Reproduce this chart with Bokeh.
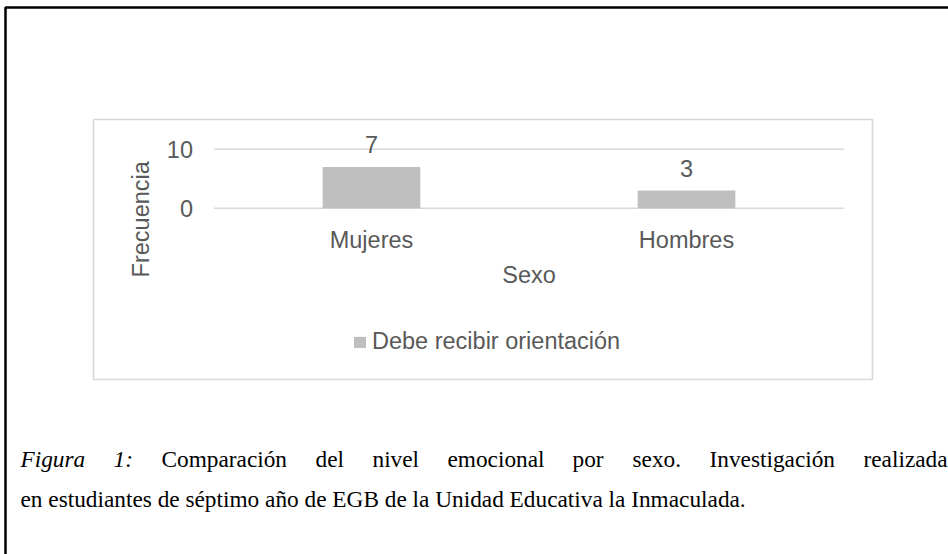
from bokeh.plotting import figure
from bokeh.models import (ColumnDataSource, Range1d, Label, BoxAnnotation,
                          Legend, LegendItem)
from bokeh.core.properties import value
from bokeh.embed import file_html
from bokeh.resources import INLINE
import math

# ---- data ----
categories = ["Mujeres", "Hombres"]
values = [7, 3]
series_name = "Debe recibir orientación"
y_ticks = [0, 10]
x_title = "Sexo"
y_title = "Frecuencia"
caption_words_line1 = ["Figura", "1:", "Comparación", "del", "nivel", "emocional",
                       "por", "sexo.", "Investigación", "realizada"]
caption_italic_words = 2
caption_line2 = "en estudiantes de séptimo año de EGB de la Unidad Educativa la Inmaculada."

# ---- styles / layout ----
GRAY = "#595959"
BAR = "#bfbfbf"
GRID = "#d9d9d9"
SANS = "Liberation Sans"
SERIF = "Liberation Serif"
FS = "23.5px"
CAP_FS = "23.3px"
W, H = 948, 554
CAT_STEP = 315.0      # px per category
CAT0_PX = 371.0       # px centre of first category
PX_PER_UNIT = 5.91    # px per value unit
ZERO_PX = 207.8       # px (from top) of value 0

x0 = -CAT0_PX / CAT_STEP
y0 = -(H - ZERO_PX) / PX_PER_UNIT
p = figure(width=W, height=H, output_backend="svg", toolbar_location=None,
           x_range=Range1d(x0, x0 + W / CAT_STEP),
           y_range=Range1d(y0, y0 + H / PX_PER_UNIT),
           min_border=0)
p.axis.visible = False
p.grid.visible = False
p.outline_line_color = None
p.background_fill_color = "white"
p.border_fill_color = "white"

n = len(categories)
idx = list(range(n))
src = ColumnDataSource(dict(x=idx, cat=categories, val=values,
                            txt=[str(v) for v in values]))
tsrc = ColumnDataSource(dict(y=y_ticks, txt=[str(t) for t in y_ticks],
                             xl=[-0.5] * len(y_ticks),
                             xr=[n - 0.5] * len(y_ticks)))

# gridlines (from tick values, spanning the category band)
p.segment(x0="xl", x1="xr", y0="y", y1="y", source=tsrc,
          line_color=GRID, line_width=1.6)

# bars
r = p.vbar(x="x", top="val", bottom=0, width=0.31, source=src,
           fill_color=BAR, line_color=None)

# value labels
p.text(x="x", y="val", text="txt", source=src, y_offset=-22,
       text_align="center", text_baseline="alphabetic",
       text_font=value(SANS), text_font_size=FS, text_color=GRAY)

# y tick labels
p.text(x="xl", y="y", text="txt", source=tsrc, x_offset=-21,
       text_align="right", text_baseline="middle",
       text_font=value(SANS), text_font_size=FS, text_color=GRAY)

# category labels
p.text(x="x", y=0, text="cat", source=src, y_offset=32,
       text_align="center", text_baseline="alphabetic",
       text_font=value(SANS), text_font_size=FS, text_color=GRAY)

# axis titles
p.text(x=[(n - 1) / 2], y=[0], text=[x_title], y_offset=67,
       text_align="center", text_baseline="alphabetic",
       text_font=value(SANS), text_font_size=FS, text_color=GRAY)
p.text(x=[-0.5], y=[0], text=[y_title], x_offset=-73, y_offset=11,
       angle=math.pi / 2, text_align="center", text_baseline="middle",
       text_font=value(SANS), text_font_size=FS, text_color=GRAY)

# legend
legend = Legend(items=[LegendItem(label=series_name, renderers=[r])],
                location=(352, 199), orientation="horizontal",
                glyph_width=15, glyph_height=14, label_standoff=5,
                padding=0, margin=0, spacing=0, border_line_color=None,
                background_fill_alpha=0, label_text_font=SANS,
                label_text_font_size=FS, label_text_color=GRAY)
p.add_layout(legend)

# chart box and page frame (screen units)
p.add_layout(BoxAnnotation(left=93, right=872, top=H - 119, bottom=H - 379,
                           left_units="screen", right_units="screen",
                           top_units="screen", bottom_units="screen",
                           fill_color=None, fill_alpha=0,
                           line_color=GRID, line_alpha=1.0, line_width=1.6))
p.add_layout(BoxAnnotation(left=5, right=W + 40, top=H - 7, bottom=-40,
                           left_units="screen", right_units="screen",
                           top_units="screen", bottom_units="screen",
                           fill_color=None, fill_alpha=0,
                           line_color="black", line_alpha=1.0, line_width=2.5))

# caption (line 1 justified word by word)
word_x = [20, 113, 161, 315, 372, 447, 572, 632, 709, 863]
for i, (w, xp) in enumerate(zip(caption_words_line1, word_x)):
    p.add_layout(Label(x=xp, y=H - 458, x_units="screen", y_units="screen",
                       text=w, text_font=SERIF, text_font_size=CAP_FS,
                       text_font_style="italic" if i < caption_italic_words else "normal",
                       text_color="black", text_baseline="alphabetic"))
p.add_layout(Label(x=20, y=H - 498, x_units="screen", y_units="screen",
                   text=caption_line2, text_font=SERIF, text_font_size=CAP_FS,
                   text_color="black", text_baseline="alphabetic"))

open("out.html", "w").write(file_html(p, INLINE))
